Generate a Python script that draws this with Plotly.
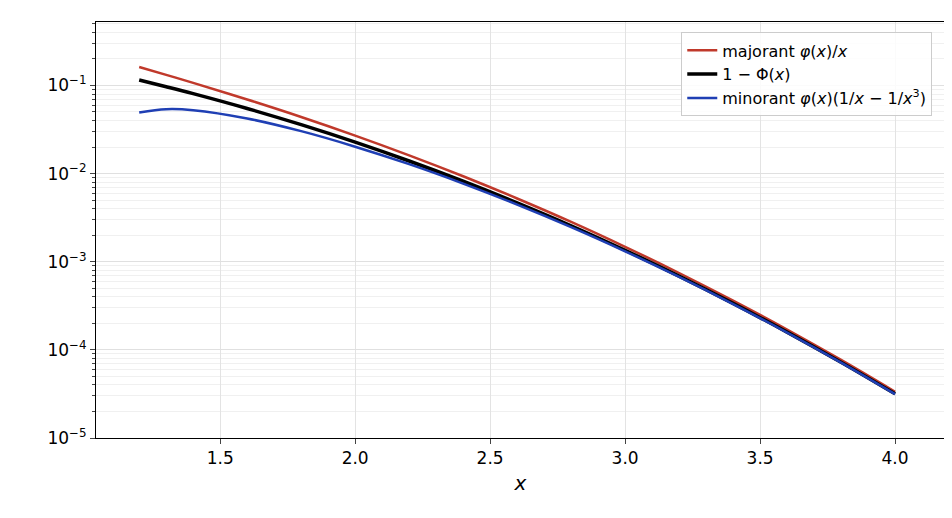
import plotly.graph_objects as go

x = [1.2, 1.3, 1.4, 1.6, 1.8, 2.0, 2.2, 2.4, 2.6, 2.8, 3.0, 3.2, 3.4, 3.6, 3.8, 4.0]
majorant = [0.1618, 0.1318, 0.1069, 0.0693, 0.0439, 0.0270, 0.01612, 0.00933, 0.00522,
            0.00283, 0.001477, 0.000745, 0.000362, 0.000170, 0.0000769, 0.0000335]
tail = [0.1151, 0.0968, 0.0808, 0.0548, 0.0359, 0.02275, 0.01390, 0.00820, 0.00466,
        0.00256, 0.00135, 0.000687, 0.000337, 0.000159, 0.0000723, 0.0000317]
minorant = [0.0494, 0.0538, 0.0524, 0.0422, 0.0303, 0.0202, 0.01279, 0.00771, 0.00445,
            0.00247, 0.001313, 0.000672, 0.000331, 0.000157, 0.0000716, 0.0000314]
ytick_vals = [1e-5, 1e-4, 1e-3, 1e-2, 1e-1]
ytick_text = ["10<sup>−5</sup>", "10<sup>−4</sup>", "10<sup>−3</sup>", "10<sup>−2</sup>", "10<sup>−1</sup>"]

fig = go.Figure()
fig.add_trace(go.Scatter(x=x, y=majorant, mode="lines", line=dict(color="#c0392b", width=2.5, shape="spline"),
                         name="majorant <i>φ</i>(<i>x</i>)/<i>x</i>"))
fig.add_trace(go.Scatter(x=x, y=tail, mode="lines", line=dict(color="black", width=3.5, shape="spline"),
                         name="1 − Φ(<i>x</i>)"))
fig.add_trace(go.Scatter(x=x, y=minorant, mode="lines", line=dict(color="#1f3fb4", width=2.5, shape="spline"),
                         name="minorant <i>φ</i>(<i>x</i>)(1/<i>x</i> − 1/<i>x</i><sup>3</sup>)"))

fig.update_layout(
    width=952, height=518, plot_bgcolor="white", paper_bgcolor="white",
    margin=dict(l=88, r=15, t=14, b=88, autoexpand=False),
    font=dict(family="DejaVu Sans", size=17, color="black"),
    legend=dict(x=0.985, y=0.975, xanchor="right", yanchor="top", bordercolor="#cccccc",
                borderwidth=1, bgcolor="rgba(255,255,255,0.85)", font=dict(size=16)),
)
fig.update_xaxes(range=[1.04, 4.185], dtick=0.5, tickformat=".1f", showgrid=True, gridcolor="#e3e3e3",
                 showline=True, linecolor="black", mirror=True, ticks="outside", automargin=False,
                 title=dict(text="<i>x</i>", standoff=8), zeroline=False)
fig.update_yaxes(type="log", range=[-5, -0.28], tickvals=ytick_vals, ticktext=ytick_text,
                 showgrid=True, gridcolor="#e0e0e0", showline=True, linecolor="black", mirror=True,
                 ticks="outside", zeroline=False, automargin=False,
                 minor=dict(dtick="D1", showgrid=True, gridcolor="#f0f0f0", ticks="outside", ticklen=3))
fig.write_html("out.html")
